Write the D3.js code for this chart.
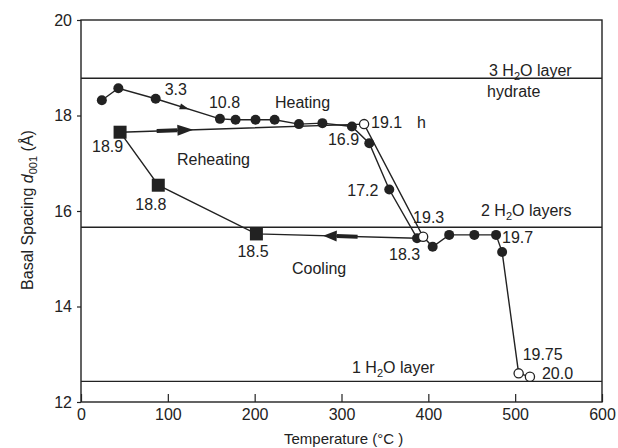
<!DOCTYPE html>
<html>
<head>
<meta charset="utf-8">
<script src="https://cdn.jsdelivr.net/npm/d3@7"></script>
<style>
  body { margin: 0; background: #fff; }
  text { font-family: "Liberation Sans", Arial, Helvetica, sans-serif; fill: #222; }
</style>
</head>
<body>
<script>
// first heating run (filled circles), temperature in C, spacing in A
var heatT = [24, 43, 86, 160, 178, 201, 223, 251, 278, 312, 332, 355, 387];
var heatD = [18.32, 18.57, 18.35, 17.93, 17.91, 17.91, 17.91, 17.82, 17.84, 17.77, 17.42, 16.45, 15.43];
var heatHours = ["", "", "3.3", "10.8", "", "", "", "", "", "16.9", "", "17.2", "18.3"];

// cooling (squares), starts where heating ended
var coolT = [387, 202, 89, 45];
var coolD = [15.43, 15.52, 16.54, 17.65];
var coolHours = ["", "18.5", "18.8", "18.9"];

// reheating
var reheatT = [45, 326, 394, 405, 424, 453, 478, 485, 504, 517];
var reheatD = [17.65, 17.82, 15.46, 15.25, 15.50, 15.50, 15.50, 15.14, 12.60, 12.53];
var reheatOpen = [false, true, true, false, false, false, false, false, true, true];
var reheatHours = ["", "19.1", "19.3", "", "", "", "19.7", "", "19.75", "20.0"];

// hydrate layer levels
var layerD = [18.78, 15.66, 12.43];
var layerNames = ["3", "2", "1"];
var layerSuffix = [" layer", " layers", " layer"];

var xTicks = [0, 100, 200, 300, 400, 500, 600];
var yTicks = [12, 14, 16, 18, 20];

var width = 618, height = 448;

var svg = d3.select("body").append("svg")
  .attr("width", width)
  .attr("height", height);

var x = d3.scaleLinear().domain([0, 600]).range([81, 602]);
var y = d3.scaleLinear().domain([12, 20]).range([402, 20]);

var ink = "#222";

// axes
var yAxis = svg.append("g")
  .attr("transform", "translate(81,0)")
  .call(d3.axisLeft(y).tickValues(yTicks).tickSize(4).tickPadding(5));
var xAxis = svg.append("g")
  .attr("transform", "translate(0,402)")
  .call(d3.axisBottom(x).tickValues(xTicks).tickSize(-8).tickPadding(7));
[xAxis, yAxis].forEach(function(a) {
  a.select(".domain").remove();
  a.selectAll("line").attr("stroke", ink).attr("stroke-width", 1.2);
  a.selectAll("text").attr("font-size", 16).attr("fill", ink)
    .style("font-family", "'Liberation Sans', Arial, sans-serif");
});

// frame
svg.append("rect")
  .attr("x", x(0)).attr("y", y(20))
  .attr("width", x(600) - x(0)).attr("height", y(12) - y(20))
  .attr("fill", "none").attr("stroke", ink).attr("stroke-width", 1.4);

// layer lines
svg.selectAll(".layer")
  .data(layerD)
  .enter()
  .append("line")
  .attr("x1", x(0)).attr("x2", x(600))
  .attr("y1", function(d) { return y(d); })
  .attr("y2", function(d) { return y(d); })
  .attr("stroke", ink).attr("stroke-width", 1.3);

// layer labels
var layerPos = [[489, -2], [481, -11], [352, -8]];
layerD.forEach(function(d, i) {
  var t = svg.append("text")
    .attr("x", layerPos[i][0])
    .attr("y", y(d) + layerPos[i][1])
    .attr("font-size", 16);
  t.append("tspan").text(layerNames[i] + " H");
  t.append("tspan").attr("font-size", 11).attr("dy", 4).text("2");
  t.append("tspan").attr("dy", -4).text("O" + layerSuffix[i]);
});
svg.append("text").attr("x", 487).attr("y", y(layerD[0]) + 19)
  .attr("font-size", 16).text("hydrate");

function pts(ts, ds) {
  return ts.map(function(t, i) { return [x(t), y(ds[i])]; });
}
var heat = pts(heatT, heatD), cool = pts(coolT, coolD), reheat = pts(reheatT, reheatD);

var line = d3.line();
[heat, cool, reheat].forEach(function(p) {
  svg.append("path").attr("d", line(p))
    .attr("fill", "none").attr("stroke", ink).attr("stroke-width", 1.4);
});

// arrows along segments
function lerp(a, b, f) { return [a[0] + (b[0] - a[0]) * f, a[1] + (b[1] - a[1]) * f]; }
function arrow(a, b, f0, fBase, fTip, bodyW, headW) {
  var s = lerp(a, b, f0), base = lerp(a, b, fBase), tip = lerp(a, b, fTip);
  var dx = b[0] - a[0], dy = b[1] - a[1], L = Math.sqrt(dx * dx + dy * dy);
  var nx = -dy / L, ny = dx / L;
  if (bodyW > 0) {
    svg.append("line")
      .attr("x1", s[0]).attr("y1", s[1]).attr("x2", base[0]).attr("y2", base[1])
      .attr("stroke", ink).attr("stroke-width", bodyW);
  }
  svg.append("path")
    .attr("d", "M" + tip[0] + "," + tip[1] +
      "L" + (base[0] + nx * headW) + "," + (base[1] + ny * headW) +
      "L" + (base[0] - nx * headW) + "," + (base[1] - ny * headW) + "Z")
    .attr("fill", ink);
}
arrow(heat[2], heat[3], 0.36, 0.38, 0.52, 0, 3);
arrow(reheat[0], reheat[1], 0.15, 0.235, 0.30, 4, 5.5);
arrow(cool[0], cool[1], 0.37, 0.50, 0.585, 4, 5.5);

// markers
svg.selectAll(".heat").data(heat).enter().append("circle")
  .attr("cx", function(d) { return d[0]; }).attr("cy", function(d) { return d[1]; })
  .attr("r", 5).attr("fill", ink);

svg.selectAll(".cool").data(cool.slice(1)).enter().append("rect")
  .attr("x", function(d) { return d[0] - 6.5; }).attr("y", function(d) { return d[1] - 6.5; })
  .attr("width", 13).attr("height", 13).attr("fill", ink);

svg.selectAll(".reheat").data(reheat.slice(1)).enter().append("circle")
  .attr("cx", function(d) { return d[0]; }).attr("cy", function(d) { return d[1]; })
  .attr("r", function(d, i) { return reheatOpen[i + 1] ? 4.6 : 5; })
  .attr("fill", function(d, i) { return reheatOpen[i + 1] ? "#fff" : ink; })
  .attr("stroke", ink).attr("stroke-width", function(d, i) { return reheatOpen[i + 1] ? 1.3 : 0; });

// hour labels
var hourOffset = {
  "3.3": [9, -4], "10.8": [-11, -11], "16.9": [-24, 19], "17.2": [-42, 6], "18.3": [-28, 22],
  "18.5": [-19, 23], "18.8": [-23, 25], "18.9": [-28, 20],
  "19.1": [7, 4], "19.3": [-10, -14], "19.7": [6, 8], "19.75": [4, -13], "20.0": [12, 2]
};
function hourLabels(p, labels) {
  p.forEach(function(d, i) {
    var s = labels[i];
    if (!s) return;
    svg.append("text")
      .attr("x", d[0] + hourOffset[s][0])
      .attr("y", d[1] + hourOffset[s][1])
      .attr("font-size", 16)
      .text(s);
  });
}
hourLabels(heat, heatHours);
hourLabels(cool, coolHours);
hourLabels(reheat, reheatHours);
svg.append("text").attr("x", reheat[1][0] + 53).attr("y", reheat[1][1] + 4)
  .attr("font-size", 16).text("h");

// run names
svg.append("text").attr("x", 275).attr("y", 108).attr("font-size", 16).text("Heating");
svg.append("text").attr("x", 177).attr("y", 165).attr("font-size", 16).text("Reheating");
svg.append("text").attr("x", 292).attr("y", 274).attr("font-size", 16).text("Cooling");

// axis titles
svg.append("text").attr("x", 284).attr("y", 444).attr("font-size", 15)
  .text("Temperature (\u00b0C )");

var yl = svg.append("text")
  .attr("transform", "translate(33,210) rotate(-90)")
  .attr("text-anchor", "middle")
  .attr("font-size", 16);
yl.append("tspan").text("Basal Spacing ");
yl.append("tspan").attr("font-style", "italic").text("d");
yl.append("tspan").attr("font-size", 11).attr("dy", 4).text("001");
yl.append("tspan").attr("dy", -4).text(" (\u00c5)");
</script>
</body>
</html>
